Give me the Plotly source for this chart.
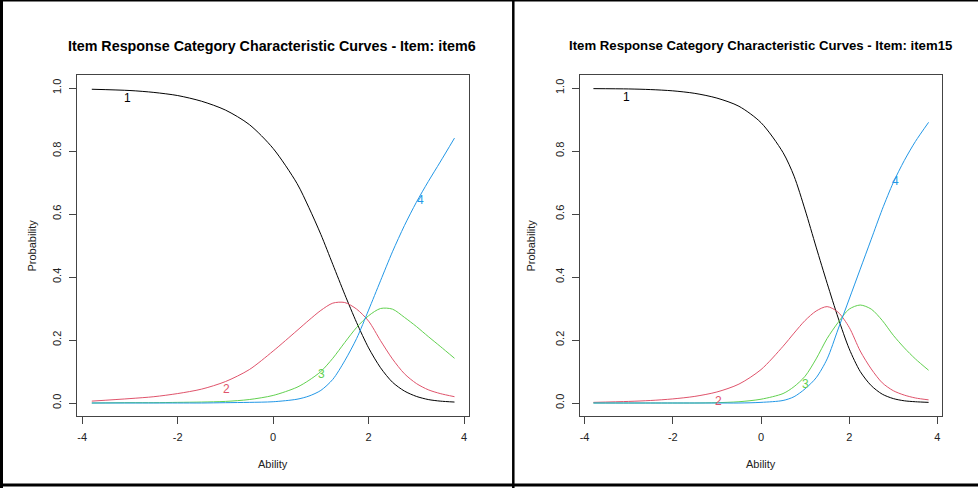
import plotly.graph_objects as go

W, H = 978, 488

# ability grid shared by the curves
ability = [-3.8, -3.0, -2.5, -2.0, -1.5, -1.0, -0.5, 0.0, 0.5, 0.75, 1.0, 1.25, 1.5, 1.75,
           2.0, 2.25, 2.5, 2.75, 3.0, 3.25, 3.5, 3.8]

# item6 category curves
item6_c1 = [0.996, 0.992, 0.986, 0.976, 0.958, 0.93, 0.884, 0.808, 0.697, 0.62, 0.535, 0.44, 0.345, 0.255,
            0.175, 0.112, 0.066, 0.038, 0.021, 0.011, 0.006, 0.003]
item6_c2 = [0.006, 0.014, 0.02, 0.03, 0.044, 0.068, 0.106, 0.165, 0.23, 0.263, 0.294, 0.317, 0.319, 0.298,
            0.26, 0.198, 0.14, 0.093, 0.062, 0.042, 0.03, 0.02]
item6_c3 = [0.0, 0.001, 0.001, 0.002, 0.003, 0.005, 0.011, 0.024, 0.05, 0.072, 0.1, 0.142, 0.192, 0.24,
            0.277, 0.3, 0.298, 0.272, 0.243, 0.211, 0.18, 0.142]
item6_c4 = [0.0, 0.0, 0.0, 0.0, 0.0, 0.001, 0.002, 0.004, 0.012, 0.022, 0.04, 0.075, 0.134, 0.205,
            0.295, 0.388, 0.48, 0.563, 0.637, 0.703, 0.765, 0.841]

# item15 category curves
item15_c1 = [0.998, 0.997, 0.995, 0.991, 0.983, 0.968, 0.942, 0.89, 0.795, 0.72, 0.613, 0.495, 0.38, 0.27,
             0.172, 0.1, 0.055, 0.028, 0.014, 0.007, 0.004, 0.002]
item15_c2 = [0.002, 0.005, 0.008, 0.013, 0.021, 0.035, 0.06, 0.106, 0.18, 0.222, 0.262, 0.292, 0.306, 0.288,
             0.24, 0.165, 0.108, 0.064, 0.039, 0.025, 0.016, 0.01]
item15_c3 = [0.0, 0.0, 0.0, 0.0, 0.0, 0.001, 0.004, 0.012, 0.03, 0.052, 0.085, 0.14, 0.205, 0.256,
             0.298, 0.311, 0.298, 0.262, 0.215, 0.175, 0.14, 0.104]
item15_c4 = [0.0, 0.0, 0.0, 0.0, 0.0, 0.0, 0.0, 0.002, 0.008, 0.02, 0.045, 0.08, 0.14, 0.235,
             0.33, 0.425, 0.52, 0.615, 0.70, 0.77, 0.83, 0.891]

categories = ["1", "2", "3", "4"]
colors = ["#000000", "#DF536B", "#61D04F", "#2297E6"]

# where the category numbers sit on each panel
item6_lab_x = [-3.05, -0.97, 1.02, 3.08]
item6_lab_y = [0.968, 0.044, 0.092, 0.644]
item15_lab_x = [-3.04, -0.97, 1.01, 3.06]
item15_lab_y = [0.97, 0.006, 0.06, 0.704]

titles = ["Item Response Category Characteristic Curves - Item: item6",
          "Item Response Category Characteristic Curves - Item: item15"]


def px(x):
    return x / W


def py(y):
    return 1 - y / H


FONT = "Liberation Sans, Arial, sans-serif"

fig = go.Figure()

panels = [
    dict(curves=[item6_c1, item6_c2, item6_c3, item6_c4], lx=item6_lab_x, ly=item6_lab_y,
         dom=[77.3, 469.0], xa="x", ya="y", tcx=272, tsize=14.3, ycx=32),
    dict(curves=[item15_c1, item15_c2, item15_c3, item15_c4], lx=item15_lab_x, ly=item15_lab_y,
         dom=[580.0, 942.0], xa="x2", ya="y2", tcx=760, tsize=13.2, ycx=531),
]

annotations = []
for i, p in enumerate(panels):
    for k, vals in enumerate(p["curves"]):
        fig.add_trace(go.Scatter(
            x=ability, y=vals, mode="lines", xaxis=p["xa"], yaxis=p["ya"],
            line=dict(color=colors[k], width=1, shape="spline", smoothing=0.8),
            showlegend=False, hoverinfo="skip"))
        annotations.append(dict(x=p["lx"][k], y=p["ly"][k], xref=p["xa"], yref=p["ya"],
                                text=categories[k], showarrow=False,
                                font=dict(family=FONT, size=12, color=colors[k])))
    annotations.append(dict(x=px(p["tcx"]), y=py(46), xref="paper", yref="paper",
                            text="<b>" + titles[i] + "</b>", showarrow=False,
                            xanchor="center", yanchor="middle",
                            font=dict(family=FONT, size=p["tsize"], color="#000")))
    annotations.append(dict(x=px((p["dom"][0] + p["dom"][1]) / 2), y=py(464), xref="paper", yref="paper",
                            text="Ability", showarrow=False, xanchor="center", yanchor="middle",
                            font=dict(family=FONT, size=11, color="#222")))
    annotations.append(dict(x=px(p["ycx"]), y=py(245.5), xref="paper", yref="paper",
                            text="Probability", showarrow=False, textangle=-90,
                            xanchor="center", yanchor="middle",
                            font=dict(family=FONT, size=11, color="#222")))

axis_common = dict(showgrid=False, zeroline=False, showline=True, mirror=True,
                   linecolor="#444", linewidth=1, ticks="outside", ticklen=7,
                   tickcolor="#444", tickwidth=1,
                   tickfont=dict(family=FONT, size=11, color="#222"))
ydom = [py(415.6), py(75.4)]

layout_axes = {}
for i, p in enumerate(panels):
    sfx = "" if i == 0 else "2"
    layout_axes["xaxis" + sfx] = dict(axis_common, domain=[px(p["dom"][0]), px(p["dom"][1])],
                                      range=[-4.104, 4.104], tickvals=[-4, -2, 0, 2, 4],
                                      ticktext=["-4", "-2", "0", "2", "4"],
                                      anchor="y" + sfx, ticklabelstandoff=4)
    layout_axes["yaxis" + sfx] = dict(axis_common, domain=ydom, range=[-0.04, 1.04],
                                      tickvals=[0, 0.2, 0.4, 0.6, 0.8, 1.0],
                                      ticktext=["0.0", "0.2", "0.4", "0.6", "0.8", "1.0"],
                                      tickangle=-90, anchor="x" + sfx, ticklabelstandoff=4)

# outer frames of the two screenshots
shapes = [
    dict(type="line", xref="paper", yref="paper", x0=0, x1=1, y0=py(0.5), y1=py(0.5),
         line=dict(color="#000", width=2)),
    dict(type="line", xref="paper", yref="paper", x0=px(1.5), x1=px(1.5), y0=0, y1=1,
         line=dict(color="#000", width=3)),
    dict(type="line", xref="paper", yref="paper", x0=0, x1=1, y0=py(485), y1=py(485),
         line=dict(color="#000", width=3)),
    dict(type="line", xref="paper", yref="paper", x0=px(513.3), x1=px(513.3), y0=0, y1=1,
         line=dict(color="#000", width=2.5)),
]

fig.update_layout(
    width=W, height=H, margin=dict(l=0, r=0, t=0, b=0),
    paper_bgcolor="white", plot_bgcolor="white",
    annotations=annotations, shapes=shapes, **layout_axes,
)

# drop the page's default body margin so the figure fills the window
fig.write_html("out.html", config={"displayModeBar": False},
               post_script="document.body.style.margin='0';document.body.style.overflow='hidden';")
